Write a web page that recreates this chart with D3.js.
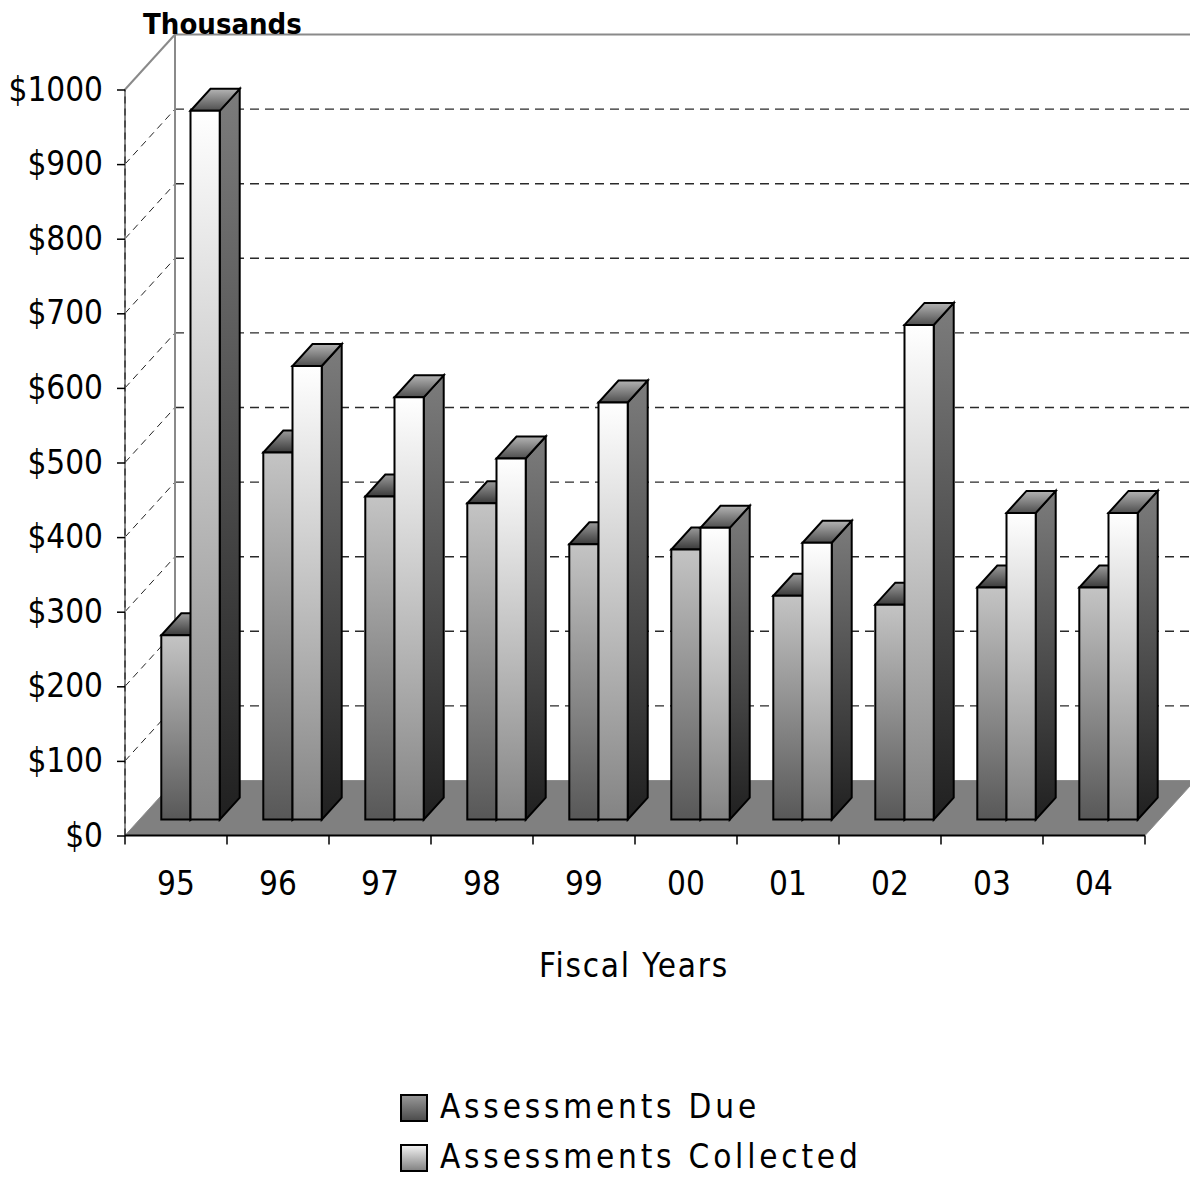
<!DOCTYPE html>
<html>
<head>
<meta charset="utf-8">
<script src="https://cdn.jsdelivr.net/npm/d3@7"></script>
<style>
  html, body { margin: 0; padding: 0; background: #fff; }
  svg { display: block; }
  text { font-family: "DejaVu Sans", "Liberation Sans", sans-serif; font-stretch: condensed; fill: #000; }
</style>
</head>
<body>
<svg id="chart" width="1190" height="1177"></svg>
<script>
// Fiscal years and assessment values (in thousands of dollars)
const years = ["95", "96", "97", "98", "99", "00", "01", "02", "03", "04"];
const seriesNames = ["Assessments Due", "Assessments Collected"];
const assessmentsDue = [247, 492, 433, 424, 369, 362, 300, 288, 311, 311];
const assessmentsCollected = [950, 608, 566, 484, 559, 391, 371, 663, 411, 411];
const yTicks = [0, 100, 200, 300, 400, 500, 600, 700, 800, 900, 1000];

const svg = d3.select("#chart");

// Front plane scales
const x = d3.scaleBand().domain(years).range([125, 1145]).paddingInner(0).paddingOuter(0);
const inner = d3.scaleBand().domain(seriesNames).range([0, x.bandwidth()]).paddingInner(0).paddingOuter(0.746);
const y = d3.scaleLinear().domain([0, 1000]).range([835.5, 89.5]);

// Oblique depth: t = 0 is the front edge, t = 1 the back wall
const DX = 50, DY = -55;
const P = (xf, v, t) => [xf + DX * t, y(v) + DY * t];
const T0 = 0.29, T1 = 0.69;

const defs = svg.append("defs");
function grad(id, stops, x1 = 0, y1 = 0, x2 = 0, y2 = 1) {
  const g = defs.append("linearGradient").attr("id", id)
    .attr("x1", x1).attr("y1", y1).attr("x2", x2).attr("y2", y2);
  stops.forEach(([o, c]) => g.append("stop").attr("offset", o).attr("stop-color", c));
}
grad("dueFront", [[0, "#c4c4c4"], [1, "#585858"]]);
grad("dueSide", [[0, "#6a6a6a"], [1, "#1e1e1e"]]);
grad("dueTop", [[0, "#9a9a9a"], [1, "#3a3a3a"]]);
grad("colFront", [[0, "#ffffff"], [1, "#838383"]]);
grad("colSide", [[0, "#7c7c7c"], [1, "#202020"]]);
grad("colTop", [[0, "#b4b4b4"], [1, "#4e4e4e"]]);
grad("dueKey", [[0, "#9a9a9a"], [1, "#4a4a4a"]]);
grad("colKey", [[0, "#f4f4f4"], [1, "#808080"]]);

const poly = pts => "M" + pts.map(p => p.join(",")).join("L") + "Z";
const line = d3.line();

// Floor
svg.append("path")
  .attr("d", poly([P(125, 0, 0), P(1145, 0, 0), P(1145, 0, 1), P(125, 0, 1)]))
  .attr("fill", "#808080").attr("stroke", "#8c8c8c").attr("stroke-width", 1);

// Back wall gridlines
const gridVals = yTicks.filter(v => v > 0 && v < 1000);
svg.append("g").selectAll("path").data(gridVals).join("path")
  .attr("d", v => line([P(125, v, 1), P(1145, v, 1)]))
  .attr("stroke", "#2a2a2a").attr("stroke-width", 1.4).attr("stroke-dasharray", "9,6").attr("fill", "none");

// Side wall gridlines
svg.append("g").selectAll("path").data(gridVals).join("path")
  .attr("d", v => line([P(125, v, 0), P(125, v, 1)]))
  .attr("stroke", "#222").attr("stroke-width", 1).attr("stroke-dasharray", "7,5").attr("fill", "none");

// Wall edges
const edge = svg.append("g").attr("stroke", "#8a8a8a").attr("stroke-width", 2).attr("fill", "none");
edge.append("path").attr("d", line([P(125, 0, 1), P(125, 1000, 1), P(1145, 1000, 1)]));
edge.append("path").attr("d", line([P(125, 1000, 0), P(125, 1000, 1)]));
edge.append("path").attr("d", line([P(125, 0, 0), P(125, 1000, 0)]));
svg.append("path").attr("d", line([P(125, 0, 0), P(125, 1000, 0)]))
  .attr("stroke", "#111").attr("stroke-width", 1).attr("stroke-dasharray", "7,5").attr("fill", "none");

// Bars
const rows = years.map((yr, i) => ({ yr, values: [
  { key: seriesNames[0], v: assessmentsDue[i], front: "dueFront", side: "dueSide", top: "dueTop" },
  { key: seriesNames[1], v: assessmentsCollected[i], front: "colFront", side: "colSide", top: "colTop" }
]}));

const bars = svg.append("g").attr("stroke", "#000").attr("stroke-width", 2).attr("stroke-linejoin", "miter");
rows.forEach(r => {
  r.values.forEach(d => {
    const x0 = x(r.yr) + inner(d.key), x1 = x0 + inner.bandwidth();
    const g = bars.append("g");
    g.append("path").attr("fill", `url(#${d.side})`)
      .attr("d", poly([P(x1, 0, T0), P(x1, d.v, T0), P(x1, d.v, T1), P(x1, 0, T1)]));
    g.append("path").attr("fill", `url(#${d.top})`)
      .attr("d", poly([P(x0, d.v, T0), P(x1, d.v, T0), P(x1, d.v, T1), P(x0, d.v, T1)]));
    g.append("path").attr("fill", `url(#${d.front})`)
      .attr("d", poly([P(x0, 0, T0), P(x1, 0, T0), P(x1, d.v, T0), P(x0, d.v, T0)]));
  });
});

// Y axis
const yAxis = d3.axisLeft(y).tickValues(yTicks).tickFormat(d => "$" + d).tickSize(8).tickPadding(14);
const yg = svg.append("g").attr("transform", "translate(125,0)").call(yAxis);
yg.select(".domain").remove();
yg.selectAll(".tick line").attr("stroke", "#000").attr("stroke-width", 1.5);
yg.selectAll(".tick text").attr("font-size", 33).attr("dy", "0.32em");

// X axis: category labels plus boundary ticks
const xAxis = d3.axisBottom(x).tickSize(0).tickPadding(36);
const xg = svg.append("g").attr("transform", `translate(0,${y(0)})`).call(xAxis);
xg.select(".domain").remove();
xg.selectAll(".tick text").attr("font-size", 33);
svg.append("path").attr("d", line([[125, y(0)], [1145, y(0)]])).attr("stroke", "#000").attr("stroke-width", 2);
svg.append("g").selectAll("line").data(years.concat(["end"])).join("line")
  .attr("x1", (d, i) => i < years.length ? x(d) : x(years[years.length - 1]) + x.bandwidth())
  .attr("x2", (d, i) => i < years.length ? x(d) : x(years[years.length - 1]) + x.bandwidth())
  .attr("y1", y(0)).attr("y2", y(0) + 9).attr("stroke", "#000").attr("stroke-width", 1.5);

// Titles
svg.append("text").attr("x", 634).attr("y", 977).attr("text-anchor", "middle")
  .attr("font-size", 33).attr("letter-spacing", 1.8).text("Fiscal Years");
svg.append("text").attr("x", 143).attr("y", 34).attr("font-size", 29).attr("font-weight", "bold")
  .text("Thousands");

// Legend
const legend = svg.append("g");
[["dueKey", 1095], ["colKey", 1145]].forEach(([fill, ly], i) => {
  legend.append("rect").attr("x", 401).attr("y", ly).attr("width", 26).attr("height", 26)
    .attr("fill", `url(#${fill})`).attr("stroke", "#000").attr("stroke-width", 2);
  legend.append("text").attr("x", 440).attr("y", ly + 23).attr("font-size", 33)
    .attr("letter-spacing", 3.8).text(seriesNames[i]);
});
</script>
</body>
</html>
